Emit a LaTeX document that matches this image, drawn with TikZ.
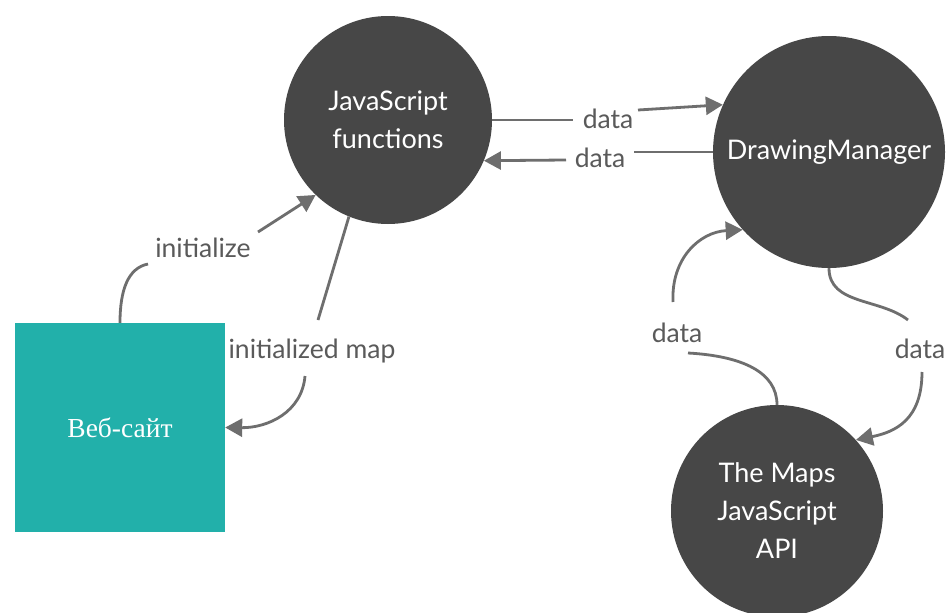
\documentclass[tikz,border=0pt]{standalone}
\usepackage{fontspec}
\setmainfont{Lato}
\newfontfamily\sitefont{Liberation Serif}
\usetikzlibrary{arrows.meta,calc}
\definecolor{nodefill}{HTML}{474747}
\definecolor{linkgray}{HTML}{6E6E6E}
\definecolor{labelgray}{HTML}{5A5A5A}
\definecolor{siteteal}{HTML}{22B0AA}
\begin{document}
\begin{tikzpicture}[x=1pt,y=-1pt,
  darknode/.style={circle,fill=nodefill,text=white,align=center,inner sep=0pt,
    font=\fontsize{27}{38}\selectfont},
  sitebox/.style={rectangle,fill=siteteal,text=white,inner sep=0pt,
    minimum width=210pt,minimum height=209pt,font=\sitefont\fontsize{27.5}{32}\selectfont},
  lbl/.style={text=labelgray,inner sep=0pt,font=\fontsize{26.5}{30}\selectfont},
  link/.style={draw=linkgray,line width=2.8pt},
  arr/.style={link,-{Triangle[length=17pt,width=18pt]}}]
\fill[white] (0,0) rectangle (948,613);
\useasboundingbox (0,0) rectangle (948,613);

% main blocks
\node[darknode,minimum size=208pt] (js) at (388,120) {JavaScript\\functions};
\node[darknode,minimum size=232pt] (dm) at (829,152) {DrawingManager};
\node[darknode,minimum size=212pt] (api) at (777,511) {The Maps\\JavaScript\\API};
\node[sitebox] (web) at (120,427.5) {Веб-сайт};

% connector labels
\node[lbl] (lbInit) at (203,248) {initialize};
\node[lbl] (lbMap) at (312,351) {initialized map};
\node[lbl] (lbD1) at (608,119) {data};
\node[lbl] (lbD2) at (600,158) {data};
\node[lbl] (lbD3) at (677,333) {data};
\node[lbl] (lbD4) at (920,349) {data};

% website -> functions
\draw[link] (web.north) .. controls (120,290) and (128,268) .. ($(lbInit)+(-55,16)$);
\draw[arr] ($(lbInit)+(55,-16)$) -- (js.226);

% functions -> website
\draw[link] (js.248) -- ($(lbMap)+(6,-31)$);
\draw[arr] ($(lbMap)+(-7,25)$) .. controls (302,412) and (268,428) .. (web.east);

% functions <-> DrawingManager
\draw[link] (js.east) -- ($(lbD1)+(-35,1)$);
\draw[arr] ($(lbD1)+(30,-9)$) -- (dm.156);
\draw[link] (dm.west) -- ($(lbD2)+(34,-6)$);
\draw[arr] ($(lbD2)+(-34,2)$) -- (js.337);

% API -> DrawingManager
\draw[link] (api.north) .. controls (777,372) and (742,356) .. ($(lbD3)+(11,20)$);
\draw[arr] ($(lbD3)+(-4,-31)$) .. controls (671,258) and (700,232) .. (dm.222);

% DrawingManager -> API
\draw[link] (dm.south) .. controls (829,305) and (880,298) .. ($(lbD4)+(-12,-29)$);
\draw[arr] ($(lbD4)+(2,23)$) .. controls (922,420) and (895,432) .. (api.42);
\end{tikzpicture}
\end{document}
